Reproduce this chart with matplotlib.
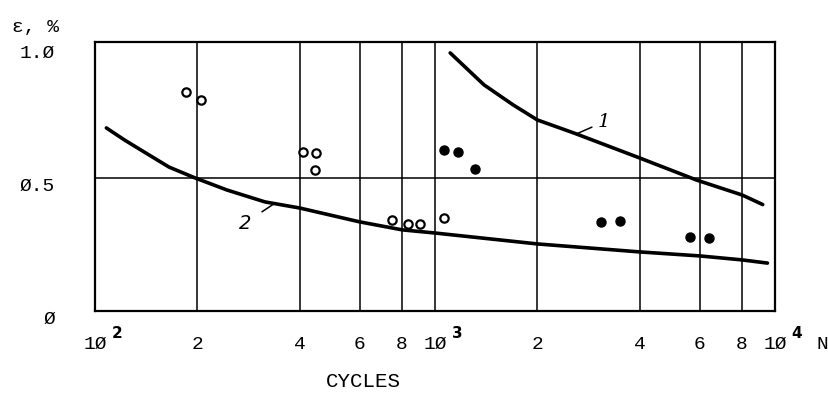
import matplotlib.pyplot as plt

# curve 1 and curve 2
n_curve1 = [1108, 1393, 1700, 2000, 2560, 4000, 5880, 8000, 9200]
eps_curve1 = [0.97, 0.85, 0.774, 0.718, 0.669, 0.575, 0.492, 0.436, 0.40]

n_curve2 = [108, 122, 141, 165, 197, 244, 316, 400, 600, 800, 1000, 2000, 4000, 6000, 8000, 9500]
eps_curve2 = [0.688, 0.643, 0.594, 0.541, 0.50, 0.455, 0.41, 0.387, 0.335, 0.305, 0.293,
              0.252, 0.222, 0.207, 0.192, 0.18]

# test points
n_open = [185, 205, 410, 447, 445, 745, 834, 902, 1060]
eps_open = [0.823, 0.793, 0.598, 0.594, 0.53, 0.342, 0.327, 0.327, 0.35]

n_filled = [1060, 1170, 1312, 3070, 3510, 5640, 6380]
eps_filled = [0.605, 0.598, 0.534, 0.335, 0.338, 0.278, 0.274]

x_ticks = [100, 200, 400, 600, 800, 1000, 2000, 4000, 6000, 8000, 10000]
x_labels = ['1Ø', '2', '4', '6', '8', '1Ø', '2', '4', '6', '8', '1Ø']
y_ticks = [0, 0.5, 1.0]
y_labels = ['Ø', 'Ø.5', '1.Ø']

plt.rcParams['font.family'] = ['Liberation Mono', 'DejaVu Sans']

fig = plt.figure(figsize=(8.29, 3.95), dpi=100)
ax = fig.add_axes([0.1146, 0.2127, 0.8203, 0.681])

ax.set_xscale('log')
ax.set_xlim(100, 10000)
ax.set_ylim(0, 1.011)

# grid lines
for x in x_ticks[1:-1]:
    ax.axvline(x, color='black', lw=1.1, zorder=1)
ax.axhline(0.5, color='black', lw=1.1, zorder=1)

ax.plot(n_curve1, eps_curve1, color='black', lw=2.6, solid_capstyle='round',
        solid_joinstyle='round', zorder=3)
ax.plot(n_curve2, eps_curve2, color='black', lw=2.6, solid_capstyle='round',
        solid_joinstyle='round', zorder=3)

ax.plot(n_open, eps_open, 'o', ms=6, mfc='white', mec='black', mew=1.6, zorder=4)
ax.plot(n_filled, eps_filled, 'o', ms=6.5, color='black', zorder=4)

# curve labels with leader lines
ax.annotate('1', xy=(2600, 0.665), xytext=(3000, 0.71), fontsize=14,
            family='DejaVu Serif', style='italic', va='center',
            arrowprops=dict(arrowstyle='-', color='black', lw=1.1, shrinkA=2, shrinkB=0))
ax.annotate('2', xy=(338, 0.405), xytext=(276, 0.33), fontsize=14,
            family='DejaVu Sans', style='italic', ha='center', va='center',
            arrowprops=dict(arrowstyle='-', color='black', lw=1.1, shrinkA=7, shrinkB=0))

ax.set_xticks(x_ticks)
ax.set_xticklabels(x_labels, fontsize=14)
ax.minorticks_off()
ax.set_yticks(y_ticks)
ax.set_yticklabels(y_labels, fontsize=14, va='top')
ax.tick_params(length=0)
ax.tick_params(axis='x', pad=18)
ax.tick_params(axis='y', pad=29)

# exponents on the decade labels
for x, p in [(100, '2'), (1000, '3'), (10000, '4')]:
    ax.annotate(p, xy=(x, 0), xytext=(12, -16), textcoords='offset points',
                fontsize=11, family='DejaVu Sans', fontweight='bold', va='center')

ax.annotate('N', xy=(1, 0), xycoords='axes fraction', xytext=(34, -24),
            textcoords='offset points', fontsize=14, ha='center', va='center')

for s in ax.spines.values():
    s.set_linewidth(1.6)

fig.text(0.438, 0.035, 'CYCLES', ha='center', va='center', fontsize=15)
fig.text(0.015, 0.92, 'ε, %', fontsize=14)

plt.savefig('out.png', dpi=100)
